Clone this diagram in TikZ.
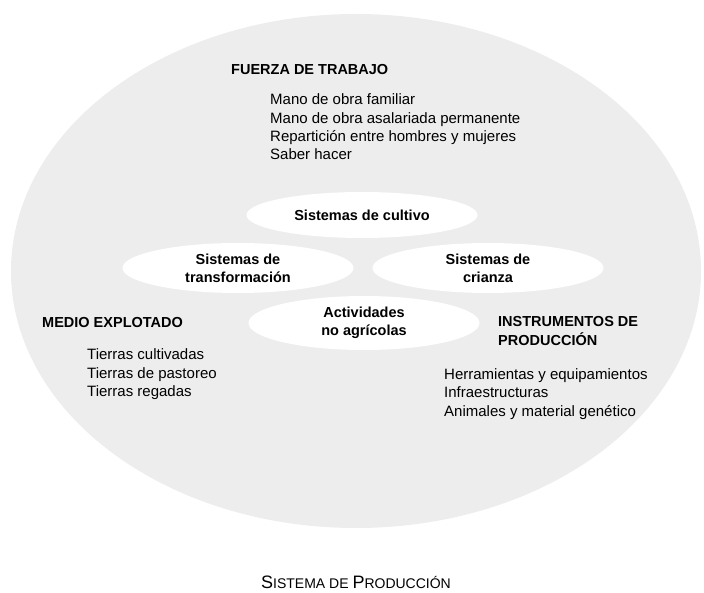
\documentclass[tikz,border=0pt]{standalone}
\usepackage{fontspec}
\setmainfont{Liberation Sans}
\usetikzlibrary{shapes,positioning}

\begin{document}
\begin{tikzpicture}[x=1pt,y=-1pt,
  every node/.append style={inner sep=0pt}]
  \tikzstyle{head} = [font=\fontsize{14.5}{16}\selectfont\bfseries,anchor=base west]
  \tikzstyle{item} = [font=\fontsize{15}{18}\selectfont,anchor=base west]
  \tikzstyle{sys} = [ellipse,fill=white,minimum width=231pt,minimum height=50pt,align=center,
    font=\fontsize{14.5}{18}\selectfont\bfseries]
  \useasboundingbox (0,0) rectangle (704,593);
  \node (prod) [ellipse,fill=gray!14,minimum width=690pt,minimum height=514pt] at (356,271) {};
  \node (cult) [sys,minimum height=46pt] at (362,215) {Sistemas de cultivo};
  \node (trans) [sys] at (238,268) {Sistemas de\\transformación};
  \node (cria) [sys] at (488,268) {Sistemas de\\crianza};
  \node (act) [sys,minimum height=54pt] at (364,323) {Actividades\\no agrícolas};
  \node (fza) [head] at (231,75) {FUERZA DE TRABAJO};
  \node (fza_1) [item] at (270,105) {Mano de obra familiar};
  \node (fza_2) [item] at (270,123.3) {Mano de obra asalariada permanente};
  \node (fza_3) [item] at (270,141.6) {Repartición entre hombres y mujeres};
  \node (fza_4) [item] at (270,160) {Saber hacer};
  \node (med) [head] at (42,327.5) {MEDIO EXPLOTADO};
  \node (med_1) [item] at (87,360) {Tierras cultivadas};
  \node (med_2) [item] at (87,378) {Tierras de pastoreo};
  \node (med_3) [item] at (87,396) {Tierras regadas};
  \node (ins) [head] at (498,327) {INSTRUMENTOS DE};
  \node (ins_b) [head] at (498,345.5) {PRODUCCIÓN};
  \node (ins_1) [item] at (444,380) {Herramientas y equipamientos};
  \node (ins_2) [item] at (444,398) {Infraestructuras};
  \node (ins_3) [item] at (444,416) {Animales y material genético};
  \node (title) [anchor=base] at (356,588)
    {\fontsize{18}{20}\selectfont S{\fontsize{14}{16}\selectfont ISTEMA DE }P{\fontsize{14}{16}\selectfont RODUCCIÓN}};
\end{tikzpicture}
\end{document}
